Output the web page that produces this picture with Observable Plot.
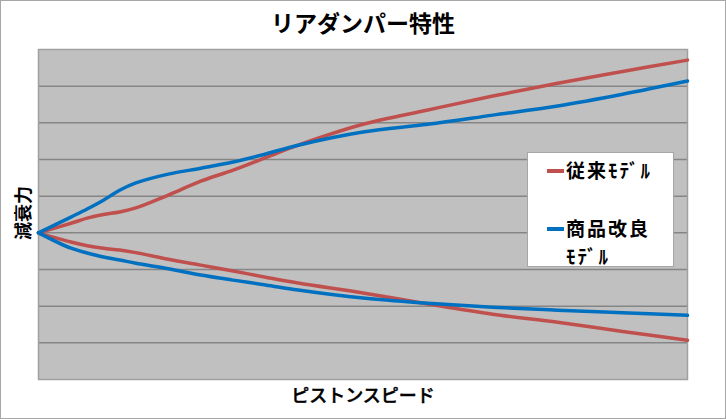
<!DOCTYPE html>
<html><head><meta charset="utf-8">
<script src="https://cdn.jsdelivr.net/npm/d3@7"></script>
<script src="https://cdn.jsdelivr.net/npm/@observablehq/plot@0.6"></script>
<style>
body{margin:0;background:#fff;}
#wrap{position:relative;width:726px;height:419px;font-family:"Noto Sans CJK JP","Noto Sans",sans-serif;color:#000;overflow:hidden;}
#wrap svg{position:absolute;left:0;top:0;}
.border{position:absolute;left:0;top:0;width:726px;height:419px;box-sizing:border-box;border:1px solid #a6a6a6;pointer-events:none;}
.title{position:absolute;left:0;width:726px;top:5px;text-align:center;font-size:23px;font-weight:bold;line-height:34px;}
.xlab{position:absolute;left:0;width:726px;top:381px;text-align:center;font-size:18px;font-weight:500;-webkit-text-stroke:0.4px #000;line-height:26px;}
.ylab{position:absolute;left:22px;top:213px;transform:translate(-50%,-50%) rotate(-90deg);font-size:18px;font-weight:bold;white-space:nowrap;line-height:22px;}
.legend{position:absolute;left:527px;top:152px;width:147px;height:115px;box-sizing:border-box;background:#fff;border:1px solid #a6a6a6;}
.li{position:absolute;left:38px;font-size:19px;font-weight:bold;letter-spacing:2px;line-height:22px;white-space:nowrap;}
.sw{position:absolute;left:19px;width:17px;height:4px;}
</style></head><body><div id="wrap"></div>
<script>
const title = "リアダンパー特性";
const xLabel = "ピストンスピード";
const yLabel = "減衰力";
const seriesNames = ["従来ﾓﾃﾞﾙ", "商品改良ﾓﾃﾞﾙ"];
const seriesColors = ["#c0504d", "#0070c0"];
const speed = [0, 0.5, 0.75, 1, 1.25, 1.5, 2, 2.5, 3, 3.5, 4, 5, 6, 7, 8, 9, 10];
const conventionalUpper = [0, 0.26, 0.40, 0.50, 0.57, 0.68, 1.03, 1.41, 1.71, 2.05, 2.39, 2.96, 3.35, 3.73, 4.08, 4.40, 4.71];
const conventionalLower = [0, -0.25, -0.35, -0.42, -0.47, -0.54, -0.72, -0.88, -1.04, -1.21, -1.37, -1.64, -1.94, -2.22, -2.44, -2.69, -2.93];
const improvedUpper = [0, 0.43, 0.65, 0.89, 1.16, 1.36, 1.60, 1.76, 1.93, 2.15, 2.39, 2.75, 2.96, 3.21, 3.46, 3.78, 4.14];
const improvedLower = [0, -0.42, -0.55, -0.66, -0.74, -0.83, -0.98, -1.15, -1.29, -1.42, -1.56, -1.78, -1.92, -2.03, -2.11, -2.18, -2.25];
const gridTicks = [-3, -2, -1, 0, 1, 2, 3, 4];

const rows = [];
[[conventionalUpper, 0, "cu"], [conventionalLower, 0, "cl"], [improvedUpper, 1, "iu"], [improvedLower, 1, "il"]].forEach(([vals, s, key]) => {
  vals.forEach((v, i) => rows.push({speed: speed[i], force: v, series: seriesNames[s], branch: key}));
});

const chart = Plot.plot({
  width: 726, height: 419,
  marginLeft: 38, marginRight: 39, marginTop: 49, marginBottom: 40,
  x: {domain: [0, 10], axis: null},
  y: {domain: [-4, 5], axis: null},
  color: {domain: seriesNames, range: seriesColors},
  style: {background: "transparent"},
  marks: [
    Plot.frame({fill: "#c0c0c0", stroke: null}),
    Plot.gridY(gridTicks, {stroke: "#858585", strokeOpacity: 1, strokeWidth: 1.5}),
    Plot.frame({stroke: "#a0a0a0", strokeWidth: 1.5}),
    Plot.line(rows, {x: "speed", y: "force", z: "branch", stroke: "series", strokeWidth: 3.5, curve: "catmull-rom"})
  ]
});

const wrap = document.getElementById("wrap");
wrap.appendChild(chart);
const add = (cls, txt) => { const d = document.createElement("div"); d.className = cls; if (txt != null) d.textContent = txt; wrap.appendChild(d); return d; };
add("title", title);
add("xlab", xLabel);
add("ylab", yLabel);
const lg = add("legend");
const mk = (cls, txt, top) => { const d = document.createElement("div"); d.className = cls; if (txt != null) d.textContent = txt; d.style.top = top + "px"; lg.appendChild(d); return d; };
mk("sw", null, 16).style.background = seriesColors[0];
mk("li", seriesNames[0], 6);
mk("sw", null, 74).style.background = seriesColors[1];
mk("li", "商品改良", 64);
mk("li", "ﾓﾃﾞﾙ", 92);
add("border");
</script></body></html>
